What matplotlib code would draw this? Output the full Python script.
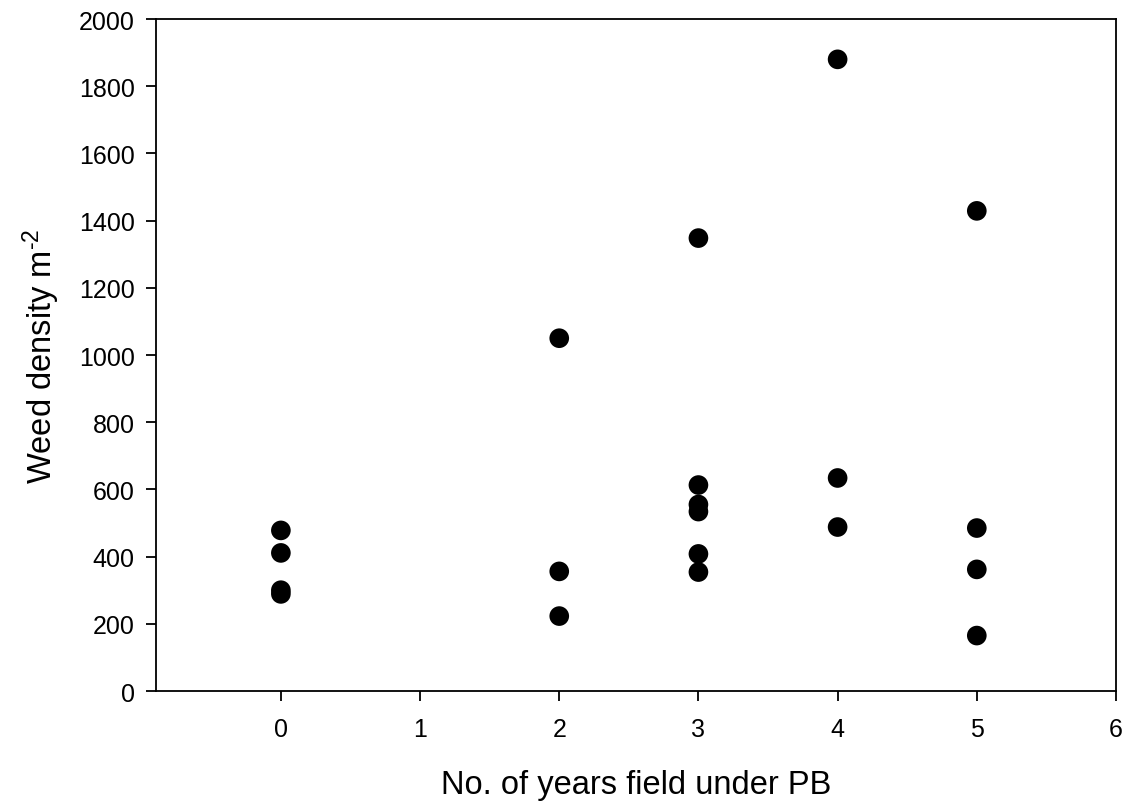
import matplotlib
matplotlib.use("Agg")
import matplotlib.pyplot as plt

plt.rcParams["font.family"] = ["Liberation Sans", "DejaVu Sans"]
plt.rcParams["mathtext.fontset"] = "custom"
plt.rcParams["mathtext.rm"] = "Liberation Sans"
plt.rcParams["mathtext.it"] = "Liberation Sans:italic"

# years under permanent beds and weed density (plants m-2)
years = [0, 0, 0, 0,
         2, 2, 2,
         3, 3, 3, 3, 3, 3,
         4, 4, 4,
         5, 5, 5, 5]
density = [478, 411, 300, 289,
           1050, 356, 223,
           1348, 613, 555, 534, 408, 354,
           1880, 634, 488,
           1429, 485, 362, 165]

fig = plt.figure(figsize=(11.26, 8.04), dpi=100)
ax = fig.add_axes([0.1382, 0.1393, 0.8529, 0.8358])

ax.scatter(years, density, s=200, c="black", edgecolors="none", zorder=3)

ax.set_xlim(-0.9, 6)
ax.set_ylim(0, 2000)
ax.set_xticks(range(0, 7))
ax.set_yticks(range(0, 2001, 200))

for sp in ax.spines.values():
    sp.set_linewidth(1.3)
ax.tick_params(axis="both", which="both", direction="out", length=7,
               width=1.3, labelsize=18, top=False, right=False)
ax.tick_params(axis="x", pad=12)
ax.tick_params(axis="y", pad=8)

ax.set_xlabel("No. of years field under PB", fontsize=23.5, labelpad=20)
ax.set_ylabel(r"Weed density m$^{\text{-2}}$", fontsize=23.5, labelpad=12)

fig.savefig("out.png", dpi=100)
